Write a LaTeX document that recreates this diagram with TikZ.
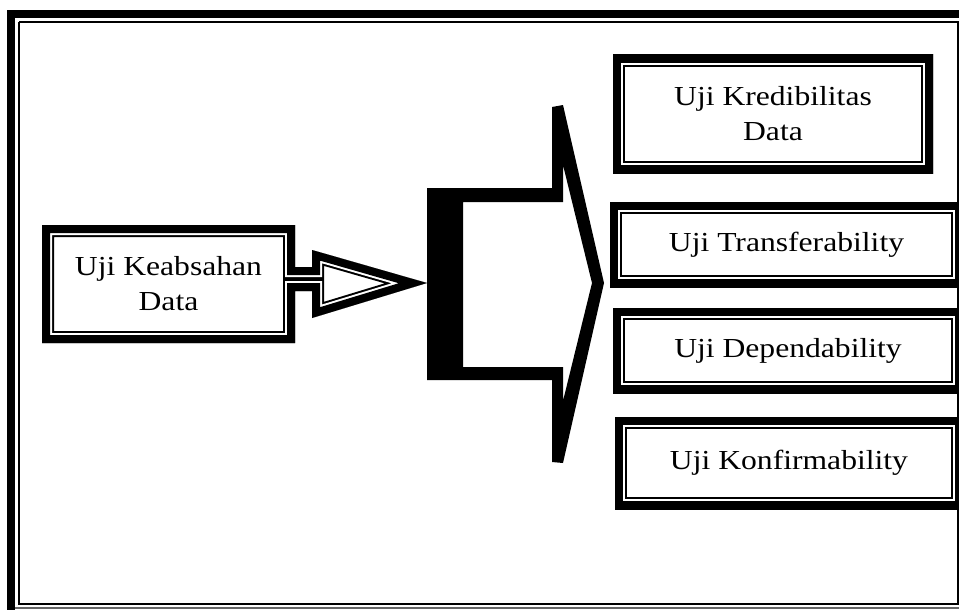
\documentclass[tikz,border=0pt]{standalone}
\usepackage{fontspec}
\setmainfont{Liberation Serif}[FakeStretch=1.15]
\usetikzlibrary{positioning}

% thick outer band + thin inner line, kept inside the path
\newcommand{\ttlines}[1]{%
  \draw[line width=24pt] #1;
  \draw[white, line width=20pt] #1;
  \draw[line width=16pt] #1;}
\newcommand{\ttframe}[1]{%
  \begin{scope}
    \clip #1;
    \ttlines{#1}
  \end{scope}}

\begin{document}
\begin{tikzpicture}[x=1pt, y=-1pt, line join=miter,
  font=\fontsize{27.5}{35}\selectfont,
  ttbox/.style={fill=white, outer sep=0pt, inner sep=0pt, align=center,
    path picture={\ttlines{(path picture bounding box.north west) rectangle (path picture bounding box.south east)}}},
  txt/.style={outer sep=0pt, inner sep=0pt, align=center}]
  \useasboundingbox (0,0) rectangle (959,610);
  % page frame
  \fill (7,10) rectangle (959,18);
  \fill (7,10) rectangle (15,610);
  \draw[line width=2pt] (19,22) -- (958,22) -- (958,604);
  \draw[line width=2pt] (19,22) -- (19,604);
  \draw[line width=2.5pt] (18,604) -- (959,604);
  \draw[line width=1.5pt, black!60] (15,608) -- (959,608);

  \coordinate (tip) at (427,283);
  \node[txt, minimum width=253pt, minimum height=118pt] (keab) at (168.5,284) {Uji Keabsahan\\Data};
  \ttframe{(keab.north west) -- (keab.north east) -- (295,267) -- (312,267) -- (312,250) -- (tip)
    -- (312,318) -- (312,291) -- (295,291) -- (keab.south east) -- (keab.south west) -- cycle}

  % bracket
  \fill[even odd rule] (tip) |- (552,188) -- (552,107) -- (563,105) -- (604,283) -- (563,463)
    -- (552,462) -- (552,380) -| (tip)
    (463,202) -- (563,202) -- (563,165) -- (592,283) -- (563,401) -- (563,367) -- (463,367) -- cycle;

  \node[ttbox, minimum width=320pt, minimum height=118pt] (kred) at (773,114) {Uji Kredibilitas\\Data};
  \node[ttbox, minimum width=353pt, minimum height=85pt] (trans) at (786.5,244.5) {Uji Transferability};
  \node[ttbox, minimum width=350pt, minimum height=85pt] (dep) at (788,350.5) {Uji Dependability};
  \node[ttbox, minimum width=348pt, minimum height=92pt] (konf) at (789,463) {Uji Konfirmability};
\end{tikzpicture}
\end{document}
